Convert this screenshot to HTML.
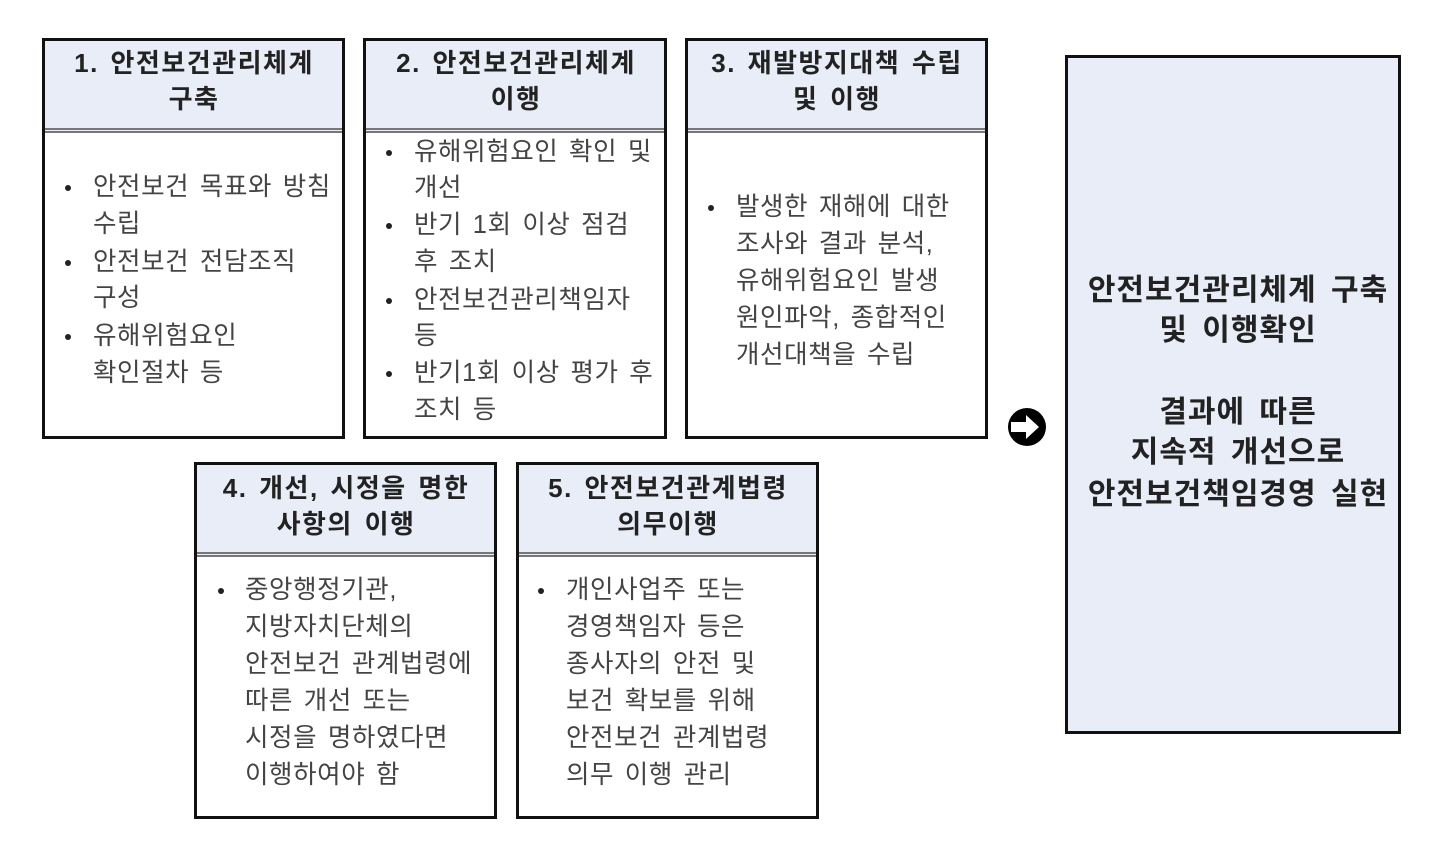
<!DOCTYPE html>
<html><head><meta charset="utf-8"><style>
body{margin:0;width:1439px;height:844px;background:#fff;position:relative;overflow:hidden;font-family:"Liberation Sans","Noto Sans CJK KR","NanumGothic",sans-serif;}
.box{position:absolute;border:3px solid #111;background:#fff;box-sizing:border-box;}
.hd{position:absolute;left:0;right:0;top:0;background:#e9edf8;border-bottom:5px double #777;box-sizing:border-box;}
.t{position:absolute;white-space:nowrap;line-height:32px;height:32px;}
.h{font-weight:bold;font-size:26px;color:#222;text-align:center;transform:translateX(-50%);letter-spacing:1.5px;word-spacing:3px;}
.b{font-size:25.5px;color:#444;letter-spacing:0.6px;word-spacing:3px;}
.dot{position:absolute;width:6px;height:6px;border-radius:50%;background:#222;}
.r{font-weight:bold;font-size:30px;color:#222;text-align:center;transform:translateX(-50%);letter-spacing:1px;word-spacing:5px;}
</style></head><body>
<div class="box" style="left:42px;top:38px;width:303px;height:401px"><div class="hd" style="height:92px"></div></div>
<div class="box" style="left:363px;top:38px;width:304px;height:401px"><div class="hd" style="height:92px"></div></div>
<div class="box" style="left:685px;top:38px;width:303px;height:401px"><div class="hd" style="height:92px"></div></div>
<div class="box" style="left:194px;top:462px;width:303px;height:357px"><div class="hd" style="height:92px"></div></div>
<div class="box" style="left:516px;top:462px;width:303px;height:357px"><div class="hd" style="height:92px"></div></div>
<div class="box" style="left:1065px;top:55px;width:336px;height:679px;background:#e9edf8"></div>

<div class="t h" style="left:194px;top:47px">1. 안전보건관리체계</div>
<div class="t h" style="left:194px;top:83px">구축</div>
<div class="t h" style="left:516px;top:47px">2. 안전보건관리체계</div>
<div class="t h" style="left:516px;top:83px">이행</div>
<div class="t h" style="left:837px;top:47px">3. 재발방지대책 수립</div>
<div class="t h" style="left:837px;top:83px">및 이행</div>
<div class="t h" style="left:346px;top:472px">4. 개선, 시정을 명한</div>
<div class="t h" style="left:346px;top:508px">사항의 이행</div>
<div class="t h" style="left:668px;top:472px">5. 안전보건관계법령</div>
<div class="t h" style="left:668px;top:508px">의무이행</div>

<div class="dot" style="left:65px;top:185px"></div><div class="dot" style="left:65px;top:260px"></div><div class="dot" style="left:65px;top:334px"></div>
<div class="t b" style="left:93px;top:171px">안전보건 목표와 방침</div>
<div class="t b" style="left:93px;top:208px">수립</div>
<div class="t b" style="left:93px;top:246px">안전보건 전담조직</div>
<div class="t b" style="left:93px;top:282px">구성</div>
<div class="t b" style="left:93px;top:320px">유해위험요인</div>
<div class="t b" style="left:93px;top:357px">확인절차 등</div>

<div class="dot" style="left:386px;top:150px"></div><div class="dot" style="left:386px;top:223px"></div><div class="dot" style="left:386px;top:298px"></div><div class="dot" style="left:386px;top:371px"></div>
<div class="t b" style="left:414px;top:136px">유해위험요인 확인 및</div>
<div class="t b" style="left:414px;top:172px">개선</div>
<div class="t b" style="left:414px;top:209px">반기 1회 이상 점검</div>
<div class="t b" style="left:414px;top:246px">후 조치</div>
<div class="t b" style="left:414px;top:284px">안전보건관리책임자</div>
<div class="t b" style="left:414px;top:320px">등</div>
<div class="t b" style="left:414px;top:357px">반기1회 이상 평가 후</div>
<div class="t b" style="left:414px;top:394px">조치 등</div>

<div class="dot" style="left:708px;top:205px"></div>
<div class="t b" style="left:736px;top:191px">발생한 재해에 대한</div>
<div class="t b" style="left:736px;top:228px">조사와 결과 분석,</div>
<div class="t b" style="left:736px;top:265px">유해위험요인 발생</div>
<div class="t b" style="left:736px;top:302px">원인파악, 종합적인</div>
<div class="t b" style="left:736px;top:339px">개선대책을 수립</div>

<div class="dot" style="left:218px;top:588px"></div>
<div class="t b" style="left:245px;top:574px">중앙행정기관,</div>
<div class="t b" style="left:245px;top:611px">지방자치단체의</div>
<div class="t b" style="left:245px;top:648px">안전보건 관계법령에</div>
<div class="t b" style="left:245px;top:685px">따른 개선 또는</div>
<div class="t b" style="left:245px;top:722px">시정을 명하였다면</div>
<div class="t b" style="left:245px;top:759px">이행하여야 함</div>

<div class="dot" style="left:538px;top:588px"></div>
<div class="t b" style="left:566px;top:574px">개인사업주 또는</div>
<div class="t b" style="left:566px;top:611px">경영책임자 등은</div>
<div class="t b" style="left:566px;top:648px">종사자의 안전 및</div>
<div class="t b" style="left:566px;top:685px">보건 확보를 위해</div>
<div class="t b" style="left:566px;top:722px">안전보건 관계법령</div>
<div class="t b" style="left:566px;top:759px">의무 이행 관리</div>

<svg style="position:absolute;left:1007px;top:407px" width="40" height="40" viewBox="0 0 40 40">
<circle cx="20" cy="20" r="19" fill="#000"/>
<path d="M4 15 H19 V8 L32 20 L19 32 V25 H4 Z" fill="#fff"/>
</svg>

<div class="t r" style="left:1238px;top:275px">안전보건관리체계 구축</div>
<div class="t r" style="left:1238px;top:315px">및 이행확인</div>
<div class="t r" style="left:1238px;top:397px">결과에 따른</div>
<div class="t r" style="left:1238px;top:437px">지속적 개선으로</div>
<div class="t r" style="left:1238px;top:479px">안전보건책임경영 실현</div>
</body></html>
